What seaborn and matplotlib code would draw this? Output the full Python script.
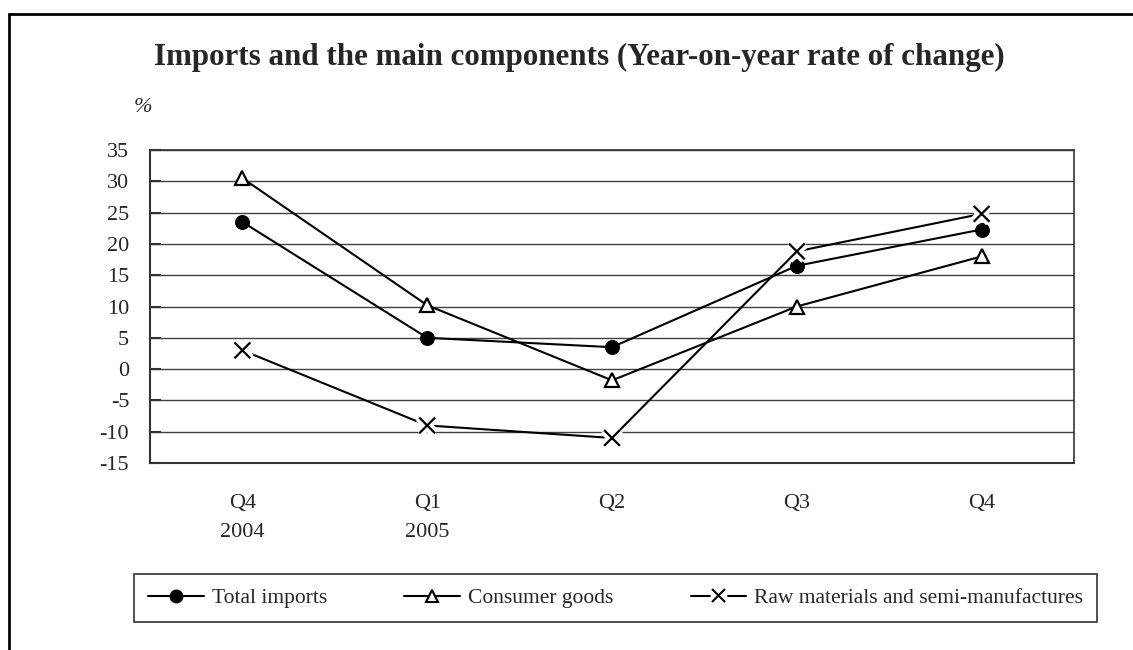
import matplotlib
matplotlib.use("Agg")
import matplotlib.pyplot as plt
import matplotlib.patheffects as pe
from matplotlib.lines import Line2D
from matplotlib.patches import Rectangle
import seaborn as sns
import pandas as pd

# data
quarters = ["Q4\n2004", "Q1\n2005", "Q2", "Q3", "Q4"]
total_imports = [23.5, 5.0, 3.5, 16.5, 22.3]
consumer_goods = [30.5, 10.2, -1.8, 10.0, 18.0]
raw_materials = [3.0, -9.0, -11.0, 18.8, 24.8]
y_ticks = [-15, -10, -5, 0, 5, 10, 15, 20, 25, 30, 35]

sns.set_style("white")
plt.rcParams["font.family"] = ["Liberation Serif", "DejaVu Serif"]

W, H = 1133, 650
fig = plt.figure(figsize=(W / 100, H / 100), dpi=100)
ax = fig.add_axes([150 / W, 1 - 463 / H, (1074 - 150) / W, (463 - 150) / H])

pos = list(range(len(quarters)))
df = pd.DataFrame({"pos": pos, "total": total_imports,
                   "consumer": consumer_goods, "raw": raw_materials})

sns.lineplot(data=df, x="pos", y="total", ax=ax, color="black", lw=1.5,
             marker="o", markersize=10, markerfacecolor="black",
             markeredgecolor="black", zorder=3)
sns.lineplot(data=df, x="pos", y="consumer", ax=ax, color="black", lw=1.5,
             marker="^", markersize=10, markerfacecolor="white",
             markeredgecolor="black", markeredgewidth=1.6, zorder=3)
sns.lineplot(data=df, x="pos", y="raw", ax=ax, color="black", lw=1.5, zorder=3)
# x markers with a white halo, as in the original
sns.scatterplot(data=df, x="pos", y="raw", ax=ax, marker="x", color="black",
                s=130, linewidth=1.6, zorder=4,
                path_effects=[pe.withStroke(linewidth=7, foreground="white")])

ax.set_xlim(-0.5, len(quarters) - 0.5)
ax.set_ylim(-15, 35)
ax.set_yticks(y_ticks)
ax.set_yticklabels([str(t) for t in y_ticks])
ax.set_xticks(pos)
ax.set_xticklabels(quarters, linespacing=1.75)
ax.set_xlabel("")
ax.set_ylabel("")
ax.tick_params(axis="y", labelsize=16, length=8, width=1.5, color="#333333",
               direction="in", left=True, pad=15)
ax.tick_params(axis="x", labelsize=16, length=0, pad=22)
for lbl in ax.get_xticklabels():
    lbl.set_verticalalignment("top")

ax.grid(axis="y", color="#404040", lw=1)
ax.grid(axis="x", visible=False)
for sp in ax.spines.values():
    sp.set_visible(True)
    sp.set_color("#333333")
    sp.set_linewidth(1.2)
ax.spines["left"].set_linewidth(1.5)
ax.spines["bottom"].set_linewidth(1.5)

fig.text(579 / W, 1 - 57 / H, "Imports and the main components (Year-on-year rate of change)",
         ha="center", va="center", fontsize=22.3, fontweight="bold")
fig.text(143 / W, 1 - 108 / H, "%", ha="center", va="center", fontsize=16, style="italic")

handles = [
    Line2D([], [], color="black", lw=1.5, marker="o", markersize=9,
           markerfacecolor="black", markeredgecolor="black"),
    Line2D([], [], color="black", lw=1.5, marker="^", markersize=8,
           markerfacecolor="white", markeredgecolor="black", markeredgewidth=1.5),
    Line2D([], [], color="black", lw=1.5, marker="x", markersize=10,
           markeredgewidth=1.5,
           path_effects=[pe.withStroke(linewidth=8, foreground="white")]),
]
labels = ["Total imports", "Consumer goods", "Raw materials and semi-manufactures"]
leg = fig.legend(handles, labels, loc="center left",
                 bbox_to_anchor=(134 / W, 1 - 598 / H, (1097 - 134) / W, 0),
                 mode="expand", ncol=3, fontsize=15.5, frameon=True, fancybox=False,
                 handlelength=2.6, handletextpad=0.35, borderaxespad=0,
                 borderpad=0.65)
leg.get_frame().set_edgecolor("black")
leg.get_frame().set_linewidth(1.2)

# outer frame of the original picture
fig.patches.append(Rectangle((9 / W, -0.1), 1.5, 1.1 - 14 / H, transform=fig.transFigure,
                             fill=False, edgecolor="black", lw=2))

fig.savefig("out.png", dpi=100)
